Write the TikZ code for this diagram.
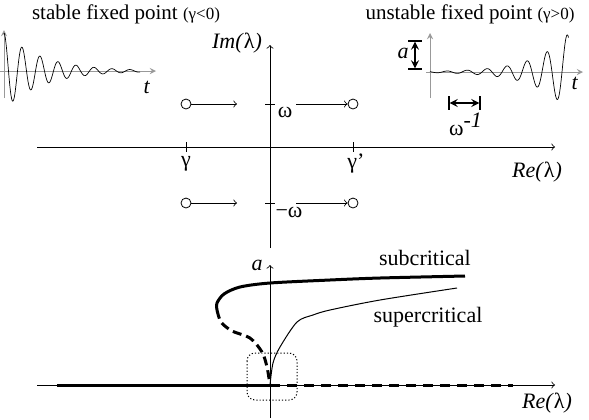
\documentclass[tikz,border=0pt]{standalone}
\usepackage{fontspec}
\setmainfont{Liberation Serif}
\tikzset{eig/.style={circle,draw,minimum size=5pt,inner sep=0pt},
	thickline/.style={line width=1.5pt},
	smallaxis/.style={-stealth,gray!80},
	lbl/.style={font=\fontsize{11}{13}\selectfont}}
\newcommand{\sml}[1]{{\fontsize{8.5}{9}\selectfont #1}}
\begin{document}
\begin{tikzpicture}[>=to,x=0.5pt,y=-0.5pt,font=\fontsize{10.5}{12}\selectfont]
		\useasboundingbox (0,0) rectangle (589,419);
		% titles
		\node (stab) at (126,14) {stable fixed point \sml{(γ<0)}};
		\node (unst) at (470,14) {unstable fixed point \sml{(γ>0)}};
		% decaying signal
		\draw[smallaxis] (4,98) -- (4,30);
		\draw[smallaxis] (0,71) -- (156,71);
		\node[lbl] (t1) at (147,87) {\textit{t}};
		\draw[line width=0.35pt] plot[domain=4:140,samples=300] (\x,{71-38*exp(-0.026*(\x-4))*cos(20*(\x-4))});
		% growing signal
		\draw[smallaxis] (430,98) -- (430,33);
		\draw[smallaxis] (426,72) -- (583,72);
		\node[lbl] (t2) at (575,83) {\textit{t}};
		\draw[line width=0.35pt] plot[domain=430:568.5,samples=300] (\x,{72-37*exp(0.03*(\x-567))*cos(18*(\x-567))});
		\draw[|<->|,>=stealth,thick] (415,40) -- (415,70);
		\node[lbl] (amp) at (403,53) {\textit{a}};
		\draw[|<->|,>=stealth,thick] (448,103) -- (481,103);
		\node[lbl] (per) at (466,124) {ω$^{\textit{-1}}$};
		% complex plane
		\draw[->] (37,147) -- (555,147);
		\draw[->] (270,248) -- (270,45);
		\node[lbl] (re1) at (537,172) {\textit{Re(}λ\textit{)}};
		\node[lbl] (im) at (237,43) {\textit{Im(}λ\textit{)}};
		\draw (186,142) -- (186,152) (353,142) -- (353,152);
		\draw (265,104) -- (275,104) (265,203) -- (275,203);
		\node[lbl] (g1) at (186,164) {γ};
		\node[lbl] (g2) at (356,164) {γ’};
		\node[lbl] (w1) at (285,112) {ω};
		\node[lbl] (w2) at (289,212) {−ω};
		\foreach \y/\n in {104/u,203/d} {
			\node[eig] (l\n) at (186,\y) {};
			\node[eig] (r\n) at (353,\y) {};
			\coordinate (a\n) at (237,\y);
			\coordinate (b\n) at (296,\y);
			\draw[->] (l\n) -- (a\n);
			\draw[->] (b\n) -- (r\n);
		}
		% bifurcation diagram
		\draw[->] (37,385) -- (555,385);
		\draw[->] (270,418) -- (270,265);
		\node[lbl] (a) at (257,265) {\textit{a}};
		\node[lbl] (re2) at (547,403) {\textit{Re(}λ\textit{)}};
		\draw[thickline] (57,385) -- (270,385);
		\draw[thickline,dash pattern=on 5pt off 3.5pt] (270,385) -- (513,385);
		\draw[thickline] plot[smooth] coordinates{(465,276) (380,278) (330,280) (270,283) (240,287) (224,294) (217,303) (217,310)};
		\draw[thickline,dash pattern=on 4.5pt off 2.5pt] plot[smooth] coordinates{(217,310) (221,322) (232,331) (250,338) (262,352) (267,367) (270,385)};
		\draw[line width=0.5pt] plot[smooth] coordinates{(270,385) (273,363) (280,347) (297,322) (313,315) (330,310) (380,300) (457,288)};
		\draw[line width=0.5pt,dash pattern=on 0.6pt off 1pt,rounded corners=4pt] (247,353) rectangle (297,400);
		\node[lbl] (sub) at (425,258) {subcritical};
		\node[lbl] (sup) at (428,317) {supercritical};
		\end{tikzpicture}
\end{document}
